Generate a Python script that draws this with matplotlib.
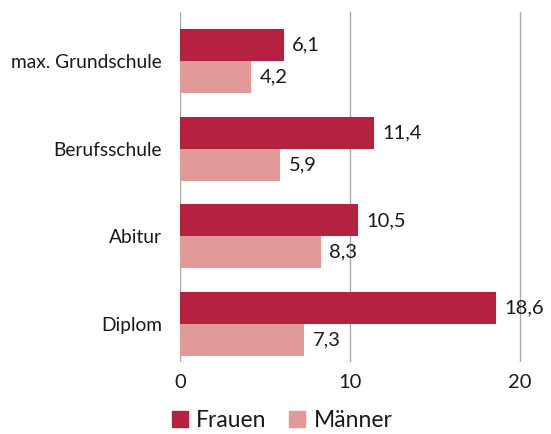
import matplotlib
matplotlib.use("Agg")
import matplotlib.pyplot as plt
import numpy as np
from matplotlib.patches import Patch

plt.rcParams['font.family'] = ['Lato', 'DejaVu Sans']

categories = ["max. Grundschule", "Berufsschule", "Abitur", "Diplom"]
frauen = [6.1, 11.4, 10.5, 18.6]
maenner = [4.2, 5.9, 8.3, 7.3]
xticks = [0, 10, 20]

c_frauen = "#B52240"
c_maenner = "#E19A98"
txt = "#1a1a1a"

fig = plt.figure(figsize=(5.51, 4.34), dpi=100)
ax = fig.add_axes([180 / 551, 1 - 362 / 434, 365 / 551, 350 / 434])

y = np.arange(len(categories))
h = 0.364
ax.barh(y - h / 2, frauen, height=h, color=c_frauen, zorder=3)
ax.barh(y + h / 2, maenner, height=h, color=c_maenner, zorder=3)

for yi, v in zip(y, frauen):
    ax.text(v + 0.5, yi - h / 2, f"{v:.1f}".replace(".", ","), va="center", ha="left",
            fontsize=14.5, color=txt)
for yi, v in zip(y, maenner):
    ax.text(v + 0.5, yi + h / 2, f"{v:.1f}".replace(".", ","), va="center", ha="left",
            fontsize=14.5, color=txt)

ax.set_xlim(0, 21.5)
ax.set_ylim(3.432, -0.557)
ax.set_yticks(y)
ax.set_yticklabels(categories, fontsize=13.8, color=txt)
ax.set_xticks(xticks)
ax.set_xticklabels([str(t) for t in xticks], fontsize=14.5, color=txt)
ax.tick_params(axis="both", length=0)
ax.tick_params(axis="y", pad=13)
ax.tick_params(axis="x", pad=9)
ax.grid(True, axis="x", color="#aaaaaa", linewidth=1, zorder=0)
for s in ax.spines.values():
    s.set_visible(False)

handles = [Patch(color=c_frauen, label="Frauen"), Patch(color=c_maenner, label="Männer")]
fig.legend(handles=handles, loc="lower center", bbox_to_anchor=(0.512, -0.002), ncol=2,
           frameon=False, fontsize=16.5, handlelength=0.7, handleheight=0.7,
           handletextpad=0.35, columnspacing=1.0, labelcolor=txt,
           borderaxespad=0.05, borderpad=0.1)

fig.savefig("out.png", dpi=100)
